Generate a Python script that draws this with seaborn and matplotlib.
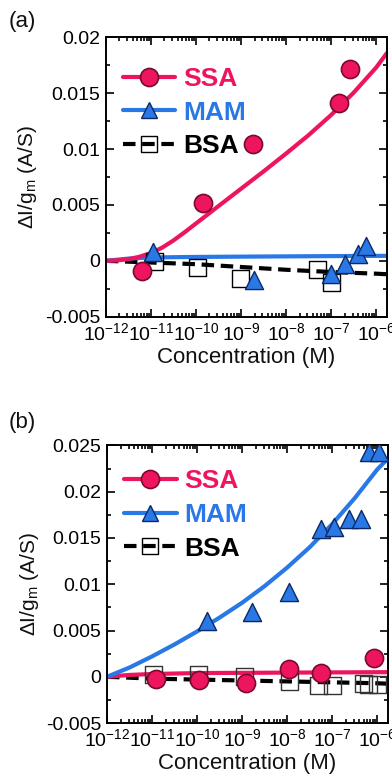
import numpy as np
import pandas as pd
import matplotlib
matplotlib.use("Agg")
import matplotlib.pyplot as plt
import seaborn as sns
from matplotlib.lines import Line2D
from matplotlib.ticker import FixedLocator, LogLocator, LogFormatterMathtext, NullFormatter, FixedFormatter

# ---------------- data ----------------
# Panel (a)
a_ssa_conc = [6.5e-12, 1.4e-10, 1.85e-9, 1.5e-7, 2.7e-7]
a_ssa_val = [-0.0009, 0.0052, 0.0105, 0.0141, 0.0172]
a_mam_conc = [1.1e-11, 1.9e-9, 1.0e-7, 2.0e-7, 3.9e-7, 6.0e-7]
a_mam_val = [0.0008, -0.0017, -0.0012, -0.0003, 0.0006, 0.0013]
a_bsa_conc = [1.2e-11, 1.1e-10, 1.0e-9, 5.0e-8, 1.0e-7]
a_bsa_val = [-0.0001, -0.0006, -0.0016, -0.0008, -0.0019]

# fitted curves, panel (a): log10 concentration and value
a_fit_ssa_log = [-12, -11.75, -11.5, -11.25, -11, -10.75, -10.5, -10.25, -10, -9.75, -9.5,
                 -9, -8.5, -8, -7.5, -7, -6.5, -6, -5.76]
a_fit_ssa_val = [0, 0.00004, 0.00015, 0.00037, 0.0007, 0.00118, 0.00182, 0.00256, 0.00334,
                 0.00412, 0.0049, 0.00645, 0.0080, 0.0096, 0.01125, 0.01305, 0.01505, 0.0173, 0.0186]
a_fit_mam_log = [-12, -11.5, -11, -10, -8, -5.76]
a_fit_mam_val = [0, 0.0002, 0.0003, 0.00035, 0.0004, 0.00045]
a_fit_bsa_log = [-12, -11, -10, -9, -8, -7, -6, -5.76]
a_fit_bsa_val = [0, -0.00015, -0.0003, -0.00055, -0.0008, -0.001, -0.00115, -0.0012]

# Panel (b)
b_ssa_conc = [1.2e-11, 1.1e-10, 1.2e-9, 1.1e-8, 5.5e-8, 8.5e-7]
b_ssa_val = [-0.0002, -0.0004, -0.0007, 0.0008, 0.0004, 0.0020]
b_mam_conc = [1.67e-10, 1.67e-9, 1.1e-8, 5.5e-8, 1.1e-7, 2.3e-7, 4.3e-7, 6.6e-7, 1.1e-6]
b_mam_val = [0.0060, 0.0070, 0.0092, 0.0160, 0.0162, 0.0170, 0.0171, 0.0243, 0.0243]
b_bsa_conc = [1.1e-11, 1.1e-10, 1.1e-9, 1.1e-8, 5.0e-8, 1.0e-7, 5.0e-7, 6.5e-7, 1.0e-6]
b_bsa_val = [0.0002, 0.0002, 0.0000, -0.0005, -0.0009, -0.0009, -0.0007, -0.0008, -0.0008]

b_fit_ssa_log = [-12, -11.5, -11, -10, -8, -5.76]
b_fit_ssa_val = [0, 0.0002, 0.0003, 0.0004, 0.00045, 0.0005]
b_fit_mam_log = [-12, -11.5, -11, -10.5, -10, -9.5, -9, -8.5, -8, -7.5, -7, -6.5, -6, -5.76]
b_fit_mam_val = [0, 0.0010, 0.0022, 0.0035, 0.0049, 0.0064, 0.0080, 0.0098, 0.0118, 0.0140,
                 0.0165, 0.0193, 0.0224, 0.0236]
b_fit_bsa_log = [-12, -11, -10, -9, -8, -7, -6, -5.76]
b_fit_bsa_val = [0, -0.0002, -0.0003, -0.0004, -0.0005, -0.0006, -0.0007, -0.00075]

series_names = ["SSA", "MAM", "BSA"]
y_ticks = [-0.005, 0, 0.005, 0.01, 0.015, 0.02, 0.025]
y_tick_labels = ["-0.005", "0", "0.005", "0.01", "0.015", "0.02", "0.025"]

# ---------------- style ----------------
sns.set_theme(style="ticks")
plt.rcParams["font.family"] = ["Liberation Sans", "DejaVu Sans"]
plt.rcParams["mathtext.fontset"] = "custom"
plt.rcParams["mathtext.rm"] = "Liberation Sans"
plt.rcParams["mathtext.it"] = "Liberation Sans:italic"
plt.rcParams["mathtext.bf"] = "Liberation Sans:bold"
plt.rcParams["mathtext.default"] = "regular"

PINK = "#EE1560"
PINK_EDGE = "#7A0A2C"
BLUE = "#2A78E6"
BLUE_EDGE = "#0B2A66"
BLACK = "#000000"

fig = plt.figure(figsize=(3.92, 7.8), dpi=100)
ax_a = fig.add_axes([0.270, 0.594, 0.717, 0.358])
ax_b = fig.add_axes([0.273, 0.073, 0.717, 0.356])


def draw_panel(ax, fits, points, ylim, yt_max, leg_anchor):
    # fitted lines
    for (lg, val, color, ls) in fits:
        df = pd.DataFrame({"x": np.power(10.0, lg), "y": val})
        sns.lineplot(data=df, x="x", y="y", ax=ax, color=color, lw=3,
                     estimator=None, sort=False, legend=False)
        ax.lines[-1].set_solid_joinstyle("round")
        if ls == "dash":
            ax.lines[-1].set_dashes((3.0, 1.6))
    # data points
    for (xc, yv, marker, fc, ec, s, lw) in points:
        df = pd.DataFrame({"x": xc, "y": yv})
        sns.scatterplot(data=df, x="x", y="y", ax=ax, marker=marker, s=s,
                        facecolor=fc, edgecolor=ec, linewidth=lw, legend=False, zorder=5)
    ax.set_xscale("log")
    ax.set_xlim(1e-12, 10 ** -5.76)
    ax.set_ylim(*ylim)
    ax.xaxis.set_major_locator(LogLocator(base=10, numticks=20))
    ax.xaxis.set_minor_locator(LogLocator(base=10, subs=np.arange(2, 10), numticks=50))
    ax.xaxis.set_major_formatter(LogFormatterMathtext())
    ax.xaxis.set_minor_formatter(NullFormatter())
    yt = [t for t in y_ticks if t <= yt_max + 1e-12]
    ax.yaxis.set_major_locator(FixedLocator(yt))
    ax.yaxis.set_major_formatter(FixedFormatter([y_tick_labels[y_ticks.index(t)] for t in yt]))
    minors = [t + 0.0025 for t in yt[:-1]]
    ax.yaxis.set_minor_locator(FixedLocator(minors))
    ax.tick_params(which="both", direction="in", top=True, right=True, colors="black",
                   labelsize=14, width=1.2)
    ax.tick_params(which="major", length=5.5, pad=4)
    ax.tick_params(which="minor", length=3)
    for sp in ax.spines.values():
        sp.set_visible(True)
        sp.set_linewidth(1.4)
        sp.set_color("black")
    ax.set_xlabel("Concentration (M)", fontsize=16, labelpad=2, color="#111111")
    ax.set_ylabel(r"$\Delta I/g_m$ (A/S)", fontsize=15, labelpad=4, color="#111111")

    handles = [
        Line2D([], [], color=PINK, lw=3, marker="o", ms=13, mfc=PINK, mec=PINK_EDGE, mew=1.2),
        Line2D([], [], color=BLUE, lw=3, marker="^", ms=12, mfc=BLUE, mec=BLUE_EDGE, mew=1.0),
        Line2D([], [], color=BLACK, lw=3, ls=(0, (3.0, 1.6)), marker="s", ms=11,
               mfc="none", mec=BLACK, mew=1.0),
    ]
    leg = ax.legend(handles, series_names, loc="upper left", bbox_to_anchor=leg_anchor,
                    frameon=False, prop={"weight": "bold", "size": 19},
                    handlelength=2.0, handletextpad=0.3, labelspacing=0.37,
                    borderpad=0, borderaxespad=0)
    for txt, c in zip(leg.get_texts(), [PINK, BLUE, BLACK]):
        txt.set_color(c)


draw_panel(
    ax_a,
    fits=[
        (a_fit_bsa_log, a_fit_bsa_val, BLACK, "dash"),
        (a_fit_mam_log, a_fit_mam_val, BLUE, "solid"),
        (a_fit_ssa_log, a_fit_ssa_val, PINK, "solid"),
    ],
    points=[
        (a_bsa_conc, a_bsa_val, "s", "none", BLACK, 150, 1.0),
        (a_mam_conc, a_mam_val, "^", BLUE, BLUE_EDGE, 170, 1.0),
        (a_ssa_conc, a_ssa_val, "o", PINK, PINK_EDGE, 170, 1.2),
    ],
    ylim=(-0.005, 0.02),
    yt_max=0.02,
    leg_anchor=(0.06, 0.895),
)

draw_panel(
    ax_b,
    fits=[
        (b_fit_bsa_log, b_fit_bsa_val, BLACK, "dash"),
        (b_fit_ssa_log, b_fit_ssa_val, PINK, "solid"),
        (b_fit_mam_log, b_fit_mam_val, BLUE, "solid"),
    ],
    points=[
        (b_bsa_conc, b_bsa_val, "s", "none", "#333333", 150, 1.0),
        (b_mam_conc, b_mam_val, "^", BLUE, BLUE_EDGE, 170, 1.0),
        (b_ssa_conc, b_ssa_val, "o", PINK, PINK_EDGE, 170, 1.2),
    ],
    ylim=(-0.005, 0.025),
    yt_max=0.025,
    leg_anchor=(0.06, 0.915),
)

fig.text(0.057, 0.973, "(a)", fontsize=16, ha="center", va="center", color="#111111")
fig.text(0.057, 0.458, "(b)", fontsize=16, ha="center", va="center", color="#111111")

fig.savefig("out.png", dpi=100)
